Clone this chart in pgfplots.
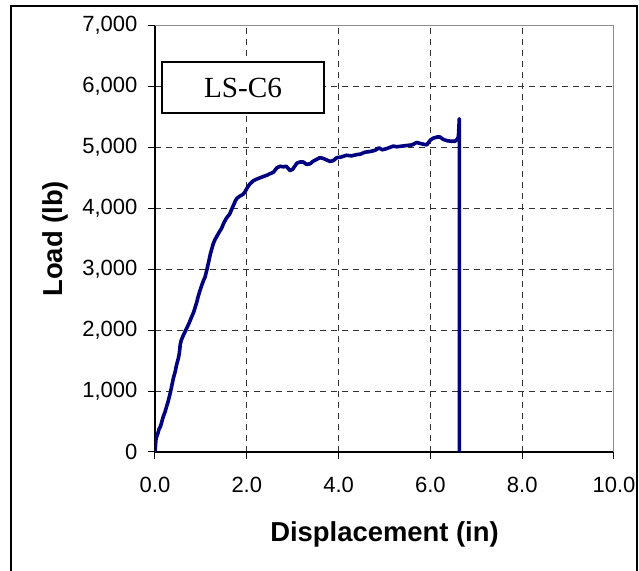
\documentclass[border=0pt]{standalone}
\usepackage{pgfplots}
\pgfplotsset{compat=1.18}
\usepackage{fontspec}
\setmainfont{Liberation Sans}
\newfontfamily\timesfont{Liberation Serif}
\definecolor{loadblue}{HTML}{000080}

\pgfplotstableread{
x y
0 0
0.01 100
0.02 200
0.04 260
0.06 300
0.09 380
0.12 420
0.15 500
0.18 580
0.22 660
0.25 740
0.29 840
0.33 960
0.37 1100
0.40 1210
0.44 1320
0.47 1430
0.51 1540
0.53 1620
0.55 1760
0.57 1830
0.62 1920
0.69 2030
0.74 2110
0.80 2220
0.84 2290
0.87 2360
0.91 2460
0.94 2550
0.98 2650
1.02 2740
1.06 2820
1.09 2870
1.13 2990
1.16 3090
1.21 3260
1.27 3420
1.31 3490
1.34 3530
1.40 3610
1.45 3670
1.50 3760
1.55 3830
1.60 3880
1.63 3910
1.68 4000
1.71 4050
1.75 4120
1.78 4160
1.85 4200
1.92 4230
1.96 4270
2.02 4350
2.07 4400
2.14 4450
2.22 4480
2.32 4510
2.43 4540
2.51 4570
2.58 4590
2.65 4660
2.72 4690
2.80 4680
2.86 4690
2.94 4620
3.00 4640
3.09 4740
3.16 4760
3.23 4760
3.30 4720
3.38 4730
3.44 4770
3.49 4790
3.59 4830
3.66 4820
3.75 4790
3.81 4770
3.88 4780
3.96 4830
4.05 4840
4.17 4870
4.28 4860
4.39 4880
4.48 4890
4.57 4920
4.68 4930
4.79 4950
4.88 4990
4.95 4960
5.05 4980
5.19 5020
5.27 5010
5.38 5020
5.48 5030
5.60 5040
5.70 5080
5.80 5060
5.92 5040
6.00 5120
6.06 5150
6.15 5170
6.21 5170
6.28 5130
6.36 5110
6.45 5100
6.54 5100
6.58 5130
6.61 5170
6.63 5470
6.63 0
}\loadcurve

\begin{document}
\begin{tikzpicture}
\useasboundingbox (-77.5pt,-59.5pt) rectangle (242pt,226pt);
\begin{axis}[
  at={(0,0)}, anchor=south west,
  scale only axis, width=229.5pt, height=213.25pt,
  xmin=0, xmax=10, ymin=0, ymax=7000,
  xtick={0,2,4,6,8,10}, ytick={0,1000,2000,3000,4000,5000,6000,7000},
  scaled ticks=false,
  axis lines=left, axis line style={-, line width=0.6pt, black},
  tick align=outside, major tick length=3.5pt,
  tick style={black, line width=0.5pt},
  grid=major,
  major grid style={black!80, line width=0.5pt, dash pattern=on 3pt off 2.5pt},
  /pgf/number format/assume math mode=true,
  tick label style={font=\fontsize{11}{13}\selectfont},
  xticklabel style={yshift=-5.3pt, /pgf/number format/.cd, fixed, fixed zerofill, precision=1},
  yticklabel style={xshift=-1.8pt, /pgf/number format/.cd, fixed, 1000 sep={,}},
  xlabel={Displacement (in)},
  ylabel={Load (lb)},
  xlabel style={at={(axis description cs:0.5,-0.211)}, anchor=base,
    font=\bfseries\fontsize{13.7}{16}\selectfont},
  ylabel style={at={(axis description cs:-0.2026,0.5)}, anchor=base,
    font=\bfseries\fontsize{13.7}{16}\selectfont},
]
\addplot[loadblue, line width=1.8pt, line join=round, mark=none] table[x=x, y=y] {\loadcurve};
\draw[black!45, line width=0.8pt] (rel axis cs:0,1) -- (rel axis cs:1,1) -- (rel axis cs:1,0);
\node[draw, fill=white, line width=0.8pt, minimum width=81pt, minimum height=25.5pt,
  inner sep=0pt, font=\timesfont\fontsize{14.6}{16}\selectfont]
  at (rel axis cs:0.1917,0.8546) {LS-C6};
\end{axis}
\draw[black, line width=0.7pt] (-72pt,-60pt) -- (-72pt,223pt) -- (241pt,223pt) -- (241pt,-60pt);
\end{tikzpicture}
\end{document}
